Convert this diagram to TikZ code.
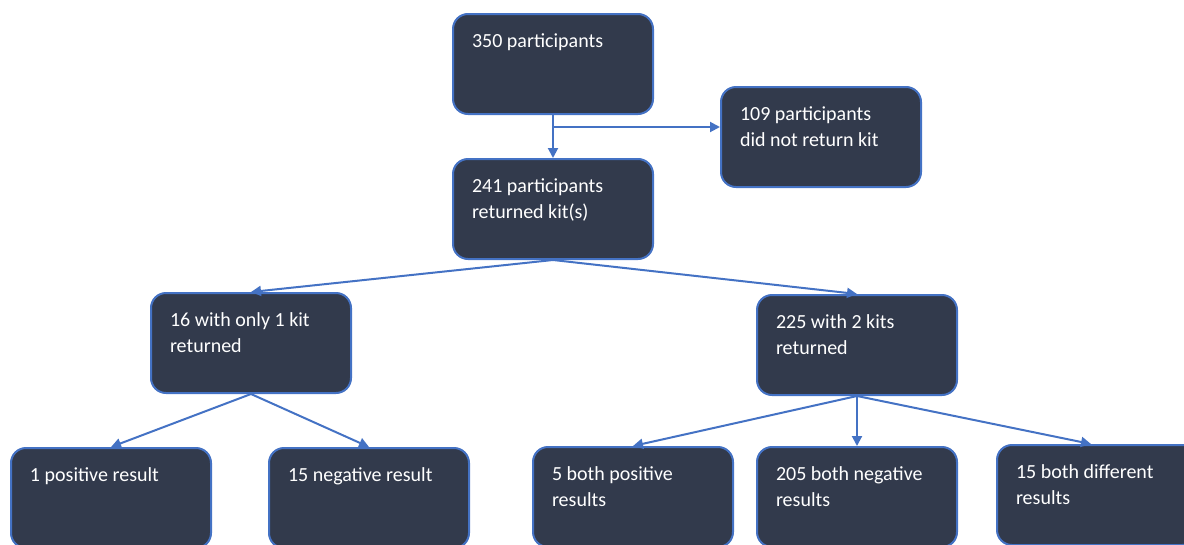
\documentclass[tikz,border=0pt]{standalone}
\usepackage{fontspec}
\setmainfont{Carlito}
\usetikzlibrary{arrows.meta}
\definecolor{boxfill}{RGB}{50,58,76}
\definecolor{boxline}{RGB}{68,114,196}
\newcommand{\boxtext}[1]{\parbox[c][100pt][t]{162pt}{\vspace*{14.8pt}\strut #1}}
\begin{document}
\begin{tikzpicture}[x=1pt,y=-1pt,
  flowbox/.style={draw=boxline, fill=boxfill, line width=2pt, rounded corners=15pt,
    minimum width=200pt, minimum height=100pt, inner sep=0pt, anchor=north west,
    text=white, font=\fontsize{20}{26}\selectfont, align=left},
  link/.style={draw=boxline, line width=2pt, -{Triangle[length=10pt,width=10pt]}}]
\useasboundingbox (0,0) rectangle (1184,544);
\clip (0,0) rectangle (1184,544);
\node[flowbox] (n350) at (452,13) {\boxtext{350 participants}};
\node[flowbox] (n109) at (720,86) {\boxtext{109 participants\\did not return kit}};
\node[flowbox] (n241) at (452,158) {\boxtext{241 participants\\returned kit(s)}};
\node[flowbox] (n16) at (150,292) {\boxtext{16 with only 1 kit\\returned}};
\node[flowbox] (n225) at (756,294) {\boxtext{225 with 2 kits\\returned}};
\node[flowbox] (pos1) at (10,447) {\boxtext{1 positive result}};
\node[flowbox] (neg15) at (268,447) {\boxtext{15 negative result}};
\node[flowbox] (both5) at (532,446) {\boxtext{5 both positive\\results}};
\node[flowbox] (neg205) at (756,446) {\boxtext{205 both negative\\results}};
\node[flowbox] (diff15) at (996,444) {\boxtext{15 both different\\results}};
\coordinate (br) at (552,127);
\draw[link] (n350.south) -- (n241.north);
\draw[link] (br) -- (br -| n109.west);
\draw[link] (n241.south) -- (n16.north);
\draw[link] (n241.south) -- (n225.north);
\draw[link] (n16.south) -- (pos1.north);
\draw[link] (n16.south) -- (neg15.north);
\draw[link] (n225.south) -- (both5.north);
\draw[link] (n225.south) -- (neg205.north);
\draw[link] (n225.south) -- ([xshift=-6pt]diff15.north);
\end{tikzpicture}
\end{document}
